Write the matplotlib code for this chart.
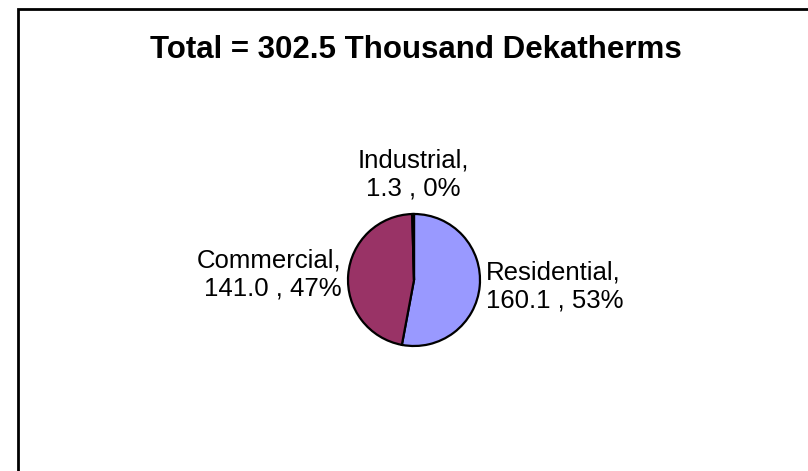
import numpy as np
import matplotlib
matplotlib.use('Agg')
import matplotlib.pyplot as plt
from matplotlib.patches import Rectangle

plt.rcParams['font.family'] = ['Liberation Sans', 'DejaVu Sans']

# Natural gas consumption by sector (thousand dekatherms)
sectors = ['Residential', 'Commercial', 'Industrial']
values = [160.1, 141.0, 1.3]
pct_labels = ['53%', '47%', '0%']
colors = ['#9999FF', '#993366', '#FFFFCC']
total = 302.5

W, H = 808, 471
fig = plt.figure(figsize=(W / 100, H / 100), dpi=100)
fig.patch.set_facecolor('white')

# chart area border (runs off the right and bottom edges)
fig.add_artist(Rectangle((18 / W, -0.5), 2.0, 1.5 - 9 / H,
                         transform=fig.transFigure, fill=False,
                         edgecolor='black', linewidth=2))

fig.text(416 / W, 1 - 50 / H, f'Total = {total} Thousand Dekatherms',
         ha='center', va='center', fontsize=22.5, fontweight='bold')

# pie placed in pixel terms
cx, cy, r = 414, 280, 66
ax = fig.add_axes([(cx - r) / W, 1 - (cy + r) / H, 2 * r / W, 2 * r / H])
wedges, _ = ax.pie(values, colors=colors, startangle=90, counterclock=False,
                   radius=1, wedgeprops=dict(edgecolor='black', linewidth=1.6))
ax.set_xlim(-1, 1)
ax.set_ylim(-1, 1)
ax.set_aspect('equal')
ax.axis('off')

for w, name, v, p in zip(wedges, sectors, values, pct_labels):
    mid = np.deg2rad((w.theta1 + w.theta2) / 2)
    x, y = np.cos(mid), np.sin(mid)
    if abs(x) < 0.3:
        ha, va = 'center', 'bottom' if y > 0 else 'top'
        x, y = 1.2 * x, 1.2 * y
    else:
        ha, va = ('left' if x > 0 else 'right'), 'center'
        x, y = 1.1 * x, 1.12 * y
    ax.text(x, y, f'{name},\n{v:.1f} , {p}', ha=ha, va=va, fontsize=18.5,
            linespacing=1.22, clip_on=False)

fig.savefig('out.png', dpi=100)
